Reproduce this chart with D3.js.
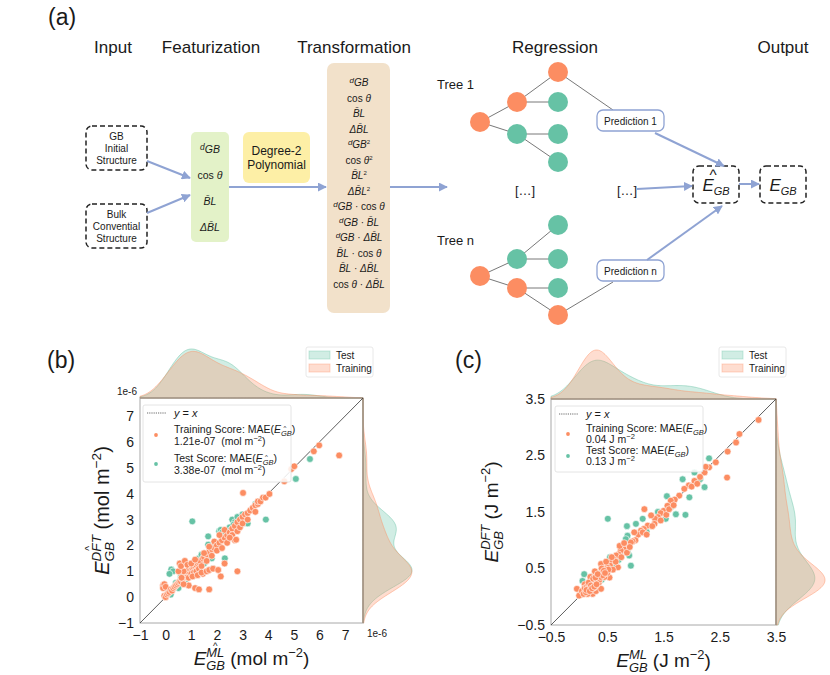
<!DOCTYPE html>
<html>
<head>
<meta charset="utf-8">
<script src="https://cdn.jsdelivr.net/npm/d3@7"></script>
<style>
body { margin: 0; background: #fff; }
text { font-family: "Liberation Sans", Arial, sans-serif; fill: #1a1a1a; }
</style>
</head>
<body>
<svg id="fig" width="830" height="675"></svg>
<script>
// ---- data ----
// panel (b): E_GB in mol m^-2 (units of 1e-6), [ML, DFT]
var trainB = [[-0.1,0.45],[-0.1,0.35],[-0.05,0.5],[-0.05,0.05],
  [0,0.4],[0,0],[0.05,0.1],[0.1,0.15],[0.15,0.2],[0.2,0.3],[0.25,0.25],[0.3,0.35],[0.35,0.4],[0.4,0.45],[0.45,0.5],
  [0.5,0.55],[0.55,0.6],[0.6,0.6],[0.65,0.7],[0.7,0.75],[0.75,0.8],[0.8,0.85],[0.85,0.9],[0.9,0.95],[0.95,1.0],
  [0.8,1.0],[0.9,1.1],[0.7,1.0],[0.5,1.0],[0.55,1.3],[0.6,1.2],[0.75,1.4],[0.85,1.25],[0.9,0.75],[0.9,0.45],[0.7,0.5],[0.62,0.75],
  [1.0,1.05],[1.05,1.1],[1.1,1.15],[1.15,1.2],[1.2,1.25],[1.25,1.3],[1.3,1.35],[1.35,1.4],[1.0,0.9],[1.1,0.95],
  [1.2,1.0],[1.3,1.1],[1.4,1.2],[1.0,1.3],[1.15,1.45],[1.05,0.8],[1.25,0.85],[1.45,0.9],[1.15,0.35],[1.3,0.3],[1.4,0.95],[1.45,1.5],
  [1.5,1.55],[1.6,1.65],[1.7,1.75],[1.8,1.85],[1.9,1.9],[1.6,1.0],[1.7,1.05],[1.85,1.1],[1.7,0.3],[1.6,1.4],[1.8,1.6],[1.5,1.7],[1.7,1.95],[1.9,2.15],
  [2.0,2.0],[2.1,2.1],[2.2,2.2],[2.3,2.3],[2.4,2.4],[2.05,1.05],[2.15,0.8],[2.0,1.8],[2.2,1.9],[2.4,2.1],[2.1,2.4],[2.3,2.6],[2.3,1.3],
  [2.5,2.5],[2.6,2.65],[2.7,2.75],[2.8,2.9],[2.9,3.0],[2.8,1.0],[2.6,2.4],[2.8,2.55],[2.7,2.2],[2.9,2.7],[2.75,2.22],[2.5,2.3],
  [3.0,3.1],[3.1,3.2],[3.2,3.25],[3.3,3.35],[3.4,3.45],[3.0,2.85],[3.2,3.0],[3.02,4.03],
  [3.5,3.55],[3.6,3.6],[3.6,3.7],[3.7,3.7],[3.8,3.85],[3.9,3.85],[3.5,3.3],[4.05,3.99],
  [4.63,4.48],[4.9,4.95],[5.02,5.06],[5.78,5.64],[5.99,5.87],[6.77,5.48]];
var testB = [[0.1,0.2],[0.2,0.1],[0.22,1.07],[0.29,1.0],[0.15,0.9],[0.4,0.55],[0.45,0.5],
  [0.5,0.35],[0.6,0.8],[0.8,0.7],[0.9,1.05],[0.7,0.9],[0.6,0.7],[0.75,0.75],[0.85,0.85],[0.95,1.0],[0.65,0.9],
  [1.04,2.93],[1.0,1.2],[1.2,1.1],[1.3,1.5],[1.1,0.85],[1.2,1.4],[1.4,1.64],[1.05,1.05],[1.15,1.1],[1.3,1.2],
  [1.66,2.35],[1.66,2.03],[1.85,1.1],[1.5,1.3],[1.9,2.0],[1.8,1.5],[1.6,1.6],
  [2.31,1.5],[2.09,2.55],[2.15,2.6],[2.4,2.2],[2.2,2.5],[2.3,2.4],[2.45,2.45],
  [2.6,3.0],[2.9,3.08],[2.5,2.7],[2.7,2.9],[2.8,3.1],[2.55,2.6],[2.65,2.8],
  [3.2,2.85],[3.0,3.2],[3.91,3.0],[3.5,3.6],[5.63,5.34],[5.08,4.57]];

// panel (c): E_GB in J m^-2, [ML, DFT]
var trainC = [[3.19,3.13],[2.85,2.88],[2.79,2.73],[2.64,2.57],[2.63,2.11],[2.43,2.38],[2.31,2.29],[2.23,2.2],[2.15,2.12],[2.05,2.05],
  [1.95,1.97],[1.87,1.91],[1.78,1.79],[1.7,1.72],[1.63,1.7],[1.57,1.61],[1.5,1.52],[1.45,1.48],[1.4,1.41],[1.35,1.38],
  [1.28,1.44],[1.16,1.55],[1.22,1.26],[1.15,1.2],[1.1,1.17],[1.05,1.1],[0.98,1.14],[1.13,1.14],[1.34,1.29],[1.0,1.0],
  [0.95,0.98],[0.92,0.96],[0.86,0.87],[0.8,0.84],[0.74,0.82],[0.7,0.75],[0.66,0.73],[0.62,0.66],[0.57,0.61],[0.55,0.55],
  [0.5,0.52],[0.45,0.49],[0.42,0.45],[0.39,0.58],[0.38,0.4],[0.35,0.38],[0.3,0.4],[0.32,0.3],[0.28,0.28],[0.25,0.25],
  [0.24,0.31],[0.22,0.2],[0.2,0.18],[0.18,0.22],[0.15,0.23],[0.12,0.15],[0.1,0.1],[0.08,0.12],[0.05,0.05],[0.02,0.04],
  [0,0.02],[-0.04,0.14],[0.24,0.05],[0.3,0.1],[0.39,0.14],[0.54,0.34],[0.69,0.52],[0.45,0.35],[0.6,0.48],[0.15,0.05],
  [0.35,0.25],[0.5,0.42],[0.65,0.62],[0.75,0.7],[0.85,0.78],[0.9,0.88],[1.2,1.1],[1.3,1.25],[1.45,1.35],[1.55,1.45],
  [1.6,1.55],[1.68,1.62],[0.28,0.45],[0.2,0.35],[0.1,0.22],[0.4,0.5],[0.48,0.62],[0.58,0.7],[0.72,0.9],[0.8,0.95],
  [0.3,0.2],[0.18,0.12],[0.26,0.16],[0.34,0.32],[0.44,0.4],[0.52,0.48],[2.0,1.95],[2.1,2.0],[2.25,2.3],
  [0.05,0.1],[0.08,0.05],[0.1,0.15],[0.12,0.08],[0.14,0.18],[0.16,0.14],[0.18,0.2],[0.2,0.15],[0.21,0.25],[0.22,0.18],
  [0.23,0.22],[0.24,0.28],[0.25,0.2],[0.26,0.24],[0.27,0.3],[0.28,0.22],[0.29,0.26],[0.3,0.32],[0.31,0.28],[0.32,0.36],
  [0.33,0.3],[0.34,0.38],[0.35,0.34],[0.36,0.3],[0.37,0.4],[0.38,0.35],[0.4,0.42],[0.42,0.38],[0.44,0.46],[0.46,0.42],
  [0.13,0.12],[0.17,0.25],[0.19,0.1],[0.21,0.2],[0.23,0.15],[0.25,0.32],[0.27,0.18],[0.29,0.34],[0.31,0.22],[0.33,0.4]];
var testC = [[2.31,2.45],[1.84,2.08],[2.23,1.94],[2.15,2.08],[1.96,1.76],[1.56,1.78],[1.72,1.46],[1.89,1.45],[1.54,1.38],[0.51,1.38],
  [0.85,1.25],[1.01,1.29],[1.13,1.38],[0.86,1.08],[0.83,1.02],[0.92,0.55],[0.09,0.4],[0.06,0.28],[0.89,0.73],[0.86,0.79],
  [0.2,0.25],[0.35,0.3],[0.45,0.5],[0.6,0.55],[0.7,0.65],[0.3,0.42],[0.15,0.1],[0.55,0.7],[1.2,1.15],[1.4,1.5],
  [0.75,0.85],[0.4,0.3],[0.25,0.15],[1.65,1.6],[2.05,2.2],
  [0.12,0.2],[0.18,0.12],[0.22,0.2],[0.28,0.22],[0.32,0.25],[0.38,0.32],[0.24,0.35],[0.3,0.2],
  [0.1,0.15],[0.15,0.18],[0.2,0.3],[0.25,0.28],[0.35,0.4],[0.14,0.1]];

var ticksB = [-1,0,1,2,3,4,5,6,7];
var ticksC = [-0.5,0.5,1.5,2.5,3.5];
var scoreB = {train: "1.21e-07", test: "3.38e-07"};
var scoreC = {train: "0.04", test: "0.13"};
var seriesNames = ["Test", "Training"];

// diagram content
var stepNames = ["Input", "Featurization", "Transformation", "Regression", "Output"];
var inputBoxes = [["GB", "Initial", "Structure"], ["Bulk", "Convential", "Structure"]];
var baseFeatures = [["d"], ["c"], ["b"], ["db"]];
var polyFeatures = [["d"], ["c"], ["b"], ["db"], ["d2"], ["c2"], ["b2"], ["db2"],
  ["d","c"], ["d","b"], ["d","db"], ["b","c"], ["b","db"], ["c","db"]];

var ORANGE = "#fc8d62", GREEN = "#66c2a5", ARROW = "#8fa3d3";
var NB = "\u00a0";
var svg = d3.select("#fig");

// ---- helpers ----
// pieces laid out left to right; back:true stacks a piece over the previous one (sub/sup)
var rich = function(parent, pieces, cx, cy, anchor, rotate) {
  var g = parent.append("g");
  var x = 0, lastStart = 0;
  pieces.forEach(function(p) {
    var start = p.back ? lastStart : x;
    var t = g.append("text").attr("x", start).attr("y", p.dy || 0)
      .attr("font-size", p.fs).attr("font-style", p.it ? "italic" : null).text(p.t);
    var w = t.node().getComputedTextLength();
    if (p.hat) {
      g.append("text").attr("x", start + w * (p.hatX || 0.5)).attr("y", (p.dy || 0) + (p.hatDy || -p.fs * 0.55))
        .attr("text-anchor", "middle").attr("font-size", p.fs * (p.hatFs || 0.9)).text("^");
    }
    lastStart = start;
    x = Math.max(x, start + w);
  });
  var off = anchor === "middle" ? -x / 2 : anchor === "end" ? -x : 0;
  g.attr("transform", "translate(" + cx + "," + cy + ")" + (rotate ? " rotate(" + rotate + ")" : "") + " translate(" + off + ",0)");
  return g;
};

// tspans with baseline offsets inside one text element
var spans = function(textSel, list) {
  var cur = 0;
  list.forEach(function(s) {
    textSel.append("tspan").attr("dy", (s.off || 0) - cur).attr("font-size", s.fs)
      .attr("font-style", s.it ? "italic" : "normal").text(s.t);
    cur = s.off || 0;
  });
};

var termSpans = function(tokens, fs) {
  var out = [];
  tokens.forEach(function(tok, i) {
    if (i > 0) out.push({t: NB + "\u00b7" + NB, fs: fs});
    var base = tok.replace("2", ""), sq = tok.indexOf("2") >= 0;
    if (base === "d") { out.push({t: "d", fs: fs * 0.8, it: true, off: -3}); out.push({t: "GB", fs: fs, it: true}); }
    if (base === "c") { out.push({t: "cos" + NB, fs: fs}); out.push({t: "\u03b8", fs: fs, it: true}); }
    if (base === "b") out.push({t: "B\u0304L", fs: fs, it: true});
    if (base === "db") out.push({t: "\u0394B\u0304L", fs: fs, it: true});
    if (sq) out.push({t: "2", fs: fs * 0.6, off: -4});
  });
  return out;
};

// ---- panel (a): workflow diagram ----
var drawDiagram = function() {
  svg.append("text").attr("x", 48).attr("y", 25).attr("font-size", 23).text("(a)");
  var hx = [113, 211, 354, 555, 783];
  stepNames.forEach(function(s, i) {
    svg.append("text").attr("x", hx[i]).attr("y", 53).attr("text-anchor", "middle").attr("font-size", 17).text(s);
  });

  var defs = svg.append("defs");
  defs.append("marker").attr("id", "ah").attr("viewBox", "0 0 10 10").attr("refX", 9).attr("refY", 5)
    .attr("markerWidth", 4.5).attr("markerHeight", 4.5).attr("orient", "auto")
    .append("path").attr("d", "M0,0L10,5L0,10Z").attr("fill", ARROW);

  var dashed = function(x, y, w, h) {
    svg.append("rect").attr("x", x).attr("y", y).attr("width", w).attr("height", h).attr("rx", 6)
      .attr("fill", "none").attr("stroke", "#222").attr("stroke-width", 1.5).attr("stroke-dasharray", "5,3");
  };

  inputBoxes.forEach(function(lines, i) {
    var y0 = i === 0 ? 126 : 204;
    dashed(86, y0, 61, 44);
    lines.forEach(function(l, j) {
      svg.append("text").attr("x", 116.5).attr("y", y0 + 14 + j * 12).attr("text-anchor", "middle")
        .attr("font-size", 10).text(l);
    });
  });

  svg.append("rect").attr("x", 191).attr("y", 132).attr("width", 38).attr("height", 110).attr("rx", 5).attr("fill", "#e3f2c8");
  baseFeatures.forEach(function(f, i) {
    spans(svg.append("text").attr("x", 210).attr("y", 153 + i * 26).attr("text-anchor", "middle"), termSpans(f, 10.5));
  });

  svg.append("rect").attr("x", 243).attr("y", 132).attr("width", 67).attr("height", 51).attr("rx", 6).attr("fill", "#fdefa6");
  svg.append("text").attr("x", 276.5).attr("y", 155).attr("text-anchor", "middle").attr("font-size", 12).text("Degree-2");
  svg.append("text").attr("x", 276.5).attr("y", 169).attr("text-anchor", "middle").attr("font-size", 12).text("Polynomial");

  svg.append("rect").attr("x", 327).attr("y", 63).attr("width", 63).attr("height", 250).attr("rx", 7).attr("fill", "#f2e1ca");
  polyFeatures.forEach(function(f, i) {
    spans(svg.append("text").attr("x", 359).attr("y", 86 + i * 15.5).attr("text-anchor", "middle"), termSpans(f, 10));
  });

  // trees
  var trees = [
    {label: "Tree 1", ly: 89,
     nodes: [[480,122,ORANGE],[517,102,ORANGE],[517,134,GREEN],[558,72,ORANGE],[558,102,GREEN],[558,134,GREEN],[558,162,GREEN]],
     edges: [[0,1],[0,2],[1,3],[1,4],[2,5],[2,6]], leaf: 3, box: [597,110], boxText: "Prediction 1"},
    {label: "Tree n", ly: 245,
     nodes: [[480,276,ORANGE],[517,259,GREEN],[517,288,ORANGE],[558,225,GREEN],[558,259,GREEN],[558,288,GREEN],[558,315,ORANGE]],
     edges: [[0,1],[0,2],[1,3],[1,4],[2,5],[2,6]], leaf: 6, box: [597,260], boxText: "Prediction n"}
  ];
  trees.forEach(function(t) {
    svg.append("text").attr("x", 437).attr("y", t.ly).attr("font-size", 13).text(t.label);
    var bx = t.box[0] + 16, by = t.leaf === 3 ? t.box[1] : t.box[1] + 22;
    t.edges.concat([[t.leaf, -1]]).forEach(function(e) {
      var a = t.nodes[e[0]], b = e[1] < 0 ? [bx, by] : t.nodes[e[1]];
      svg.append("line").attr("x1", a[0]).attr("y1", a[1]).attr("x2", b[0]).attr("y2", b[1])
        .attr("stroke", "#555").attr("stroke-width", 0.8);
    });
    t.nodes.forEach(function(n) {
      svg.append("circle").attr("cx", n[0]).attr("cy", n[1]).attr("r", 10).attr("fill", n[2]);
    });
    svg.append("rect").attr("x", t.box[0]).attr("y", t.box[1]).attr("width", 67).attr("height", 21).attr("rx", 6)
      .attr("fill", "#fff").attr("stroke", ARROW).attr("stroke-width", 1.3);
    svg.append("text").attr("x", t.box[0] + 33.5).attr("y", t.box[1] + 14.5).attr("text-anchor", "middle")
      .attr("font-size", 10).text(t.boxText);
  });
  svg.append("text").attr("x", 525).attr("y", 195).attr("text-anchor", "middle").attr("font-size", 13).text("[\u2026]");
  svg.append("text").attr("x", 627).attr("y", 195).attr("text-anchor", "middle").attr("font-size", 13).text("[\u2026]");

  dashed(693, 166, 46, 37);
  dashed(760, 166, 46, 37);
  rich(svg, [{t: "E", fs: 17, it: true, hat: true, hatX: 0.95, hatDy: -11}, {t: "GB", fs: 11, it: true, dy: 4}], 716, 191, "middle");
  rich(svg, [{t: "E", fs: 17, it: true}, {t: "GB", fs: 11, it: true, dy: 4}], 783, 191, "middle");

  var arrows = [[147,161,190,178],[147,213,190,195],[229,187,326,187],[390,187,447,187],
    [655,133,724,166],[637,189,692,186],[647,260,722,206],[739,184,759,184]];
  arrows.forEach(function(a) {
    svg.append("line").attr("x1", a[0]).attr("y1", a[1]).attr("x2", a[2]).attr("y2", a[3])
      .attr("stroke", ARROW).attr("stroke-width", 2).attr("marker-end", "url(#ah)");
  });
};

// ---- panels (b),(c): joint scatter with marginal KDEs ----
var gaussKde = function(values, grid) {
  var n = values.length, sd = d3.deviation(values), bw = sd * Math.pow(n, -0.2);
  return grid.map(function(g) {
    return [g, d3.mean(values, function(v) { var z = (g - v) / bw; return Math.exp(-0.5 * z * z); }) / (bw * Math.sqrt(2 * Math.PI))];
  });
};

var createPanel = function(cfg) {
  var g = svg.append("g");
  var x = d3.scaleLinear().domain(cfg.domain).range([cfg.left, cfg.right]);
  var y = d3.scaleLinear().domain(cfg.domain).range([cfg.bottom, cfg.top]);
  var sets = [cfg.test, cfg.train], cols = [GREEN, ORANGE];

  g.append("text").attr("x", cfg.tag[0]).attr("y", cfg.tag[1]).attr("font-size", 23).text(cfg.tagText);

  // marginal densities
  var grid = d3.range(cfg.domain[0], cfg.domain[1] + 1e-9, (cfg.domain[1] - cfg.domain[0]) / 200);
  var topK = sets.map(function(s) { return gaussKde(s.map(function(d) { return d[0]; }), grid); });
  var rightK = sets.map(function(s) { return gaussKde(s.map(function(d) { return d[1]; }), grid); });
  var mTop = d3.max(topK, function(k) { return d3.max(k, function(d) { return d[1]; }); });
  var mRight = d3.max(rightK, function(k) { return d3.max(k, function(d) { return d[1]; }); });
  var hTop = d3.scaleLinear().domain([0, mTop * 1.04]).range([cfg.top, cfg.top - 51]);
  var hRight = d3.scaleLinear().domain([0, mRight * 1.04]).range([cfg.right, cfg.right + 51]);
  topK.forEach(function(k, i) {
    g.append("path").datum(k).attr("fill", cols[i]).attr("fill-opacity", 0.3)
      .attr("stroke", cols[i]).attr("stroke-opacity", 0.45).attr("stroke-width", 1)
      .attr("d", d3.area().curve(d3.curveBasis).x(function(d) { return x(d[0]); }).y0(cfg.top).y1(function(d) { return hTop(d[1]); }));
  });
  rightK.forEach(function(k, i) {
    g.append("path").datum(k).attr("fill", cols[i]).attr("fill-opacity", 0.3)
      .attr("stroke", cols[i]).attr("stroke-opacity", 0.45).attr("stroke-width", 1)
      .attr("d", d3.area().curve(d3.curveBasis).y(function(d) { return y(d[0]); }).x0(cfg.right).x1(function(d) { return hRight(d[1]); }));
  });

  // frame
  g.append("rect").attr("x", cfg.left).attr("y", cfg.top).attr("width", cfg.right - cfg.left).attr("height", cfg.bottom - cfg.top)
    .attr("fill", "none").attr("stroke", "#a8a8a8").attr("stroke-width", 1);
  g.append("line").attr("x1", cfg.left).attr("x2", cfg.right).attr("y1", cfg.top).attr("y2", cfg.top)
    .attr("stroke", "#9c8a78").attr("stroke-width", 1.2);
  g.append("line").attr("x1", cfg.right).attr("x2", cfg.right).attr("y1", cfg.top).attr("y2", cfg.bottom)
    .attr("stroke", "#9c8a78").attr("stroke-width", 1.2);

  // ticks (no tick marks, seaborn white style)
  var xAxis = d3.axisBottom(x).tickValues(cfg.ticks).tickSize(0).tickPadding(7).tickFormat(cfg.fmt);
  var yAxis = d3.axisLeft(y).tickValues(cfg.ticks).tickSize(0).tickPadding(6).tickFormat(cfg.fmt);
  var ax = g.append("g").attr("transform", "translate(0," + cfg.bottom + ")").call(xAxis);
  var ay = g.append("g").attr("transform", "translate(" + cfg.left + ",0)").call(yAxis);
  [ax, ay].forEach(function(a) {
    a.select(".domain").remove();
    a.selectAll("text").attr("font-size", 14).attr("fill", "#1a1a1a")
      .style("font-family", '"Liberation Sans", Arial, sans-serif');
  });

  // y = x and points
  g.append("line").attr("x1", x(cfg.domain[0])).attr("y1", y(cfg.domain[0])).attr("x2", x(cfg.domain[1])).attr("y2", y(cfg.domain[1]))
    .attr("stroke", "#333").attr("stroke-width", 0.8);
  sets.forEach(function(s, i) {
    g.selectAll(null).data(s).enter().append("circle")
      .attr("cx", function(d) { return x(d[0]); }).attr("cy", function(d) { return y(d[1]); })
      .attr("r", 3.4).attr("fill", cols[i]).attr("stroke", "#fff").attr("stroke-width", 0.6);
  });

  // inner legend
  var L = cfg.legend;
  g.append("rect").attr("x", L.x).attr("y", L.y).attr("width", L.w).attr("height", L.h).attr("rx", 2)
    .attr("fill", "#fff").attr("fill-opacity", 0.85).attr("stroke", "#ddd").attr("stroke-width", 0.8);
  g.append("line").attr("x1", L.x + 4).attr("x2", L.x + 23).attr("y1", L.y + 8).attr("y2", L.y + 8)
    .attr("stroke", "#444").attr("stroke-width", 0.8).attr("stroke-dasharray", "1.2,1");
  rich(g, [{t: "y", fs: 11, it: true}, {t: NB + "=" + NB, fs: 11}, {t: "x", fs: 11, it: true}], L.x + 31, L.y + 12, "start");
  [["train", L.r1, ORANGE, "Training"], ["test", L.r2, GREEN, "Test"]].forEach(function(r) {
    var ry = r[1];
    g.append("circle").attr("cx", L.x + 13).attr("cy", L.y + ry + 2).attr("r", 1.9).attr("fill", r[2]);
    rich(g, [{t: r[3] + " Score: MAE(", fs: 10.5}, {t: "E", fs: 10.5, it: true},
      {t: "GB", fs: 7.5, it: true, dy: 2.5, hat: cfg.hat, hatX: 0.35, hatDy: -5.5, hatFs: 0.8}, {t: ")", fs: 10.5}], L.x + 31, L.y + ry, "start");
    rich(g, cfg.unitLine(cfg.scores[r[0]]), L.x + 31, L.y + ry + L.gap, "start");
  });

  // marginal legend
  var M = cfg.mleg;
  g.append("rect").attr("x", M[0]).attr("y", M[1]).attr("width", 67).attr("height", 30).attr("rx", 2)
    .attr("fill", "#fff").attr("stroke", "#e2e2e2").attr("stroke-width", 0.8);
  seriesNames.forEach(function(nm, i) {
    g.append("rect").attr("x", M[0] + 3).attr("y", M[1] + 4 + i * 13).attr("width", 21).attr("height", 8)
      .attr("fill", cols[i]).attr("fill-opacity", 0.3).attr("stroke", cols[i]).attr("stroke-opacity", 0.35);
    g.append("text").attr("x", M[0] + 30).attr("y", M[1] + 11.5 + i * 13).attr("font-size", 10).text(nm);
  });

  // axis titles
  rich(g, cfg.xlabel, (cfg.left + cfg.right) / 2, cfg.bottom + 42, "middle");
  rich(g, cfg.ylabel, cfg.left - cfg.yoff, (cfg.top + cfg.bottom) / 2, "middle", -90);
  return g;
};

var axisLabel = function(sup, unit, hat, fs) {
  var s = fs * 0.68;
  return [{t: "E", fs: fs, it: true}, {t: "GB", fs: s, it: true, dy: 5},
    {t: sup, fs: s, it: true, dy: -8, back: true, hat: hat, hatDy: -8, hatFs: 0.75}, {t: NB + "(" + unit + NB + "m", fs: fs},
    {t: "\u22122", fs: s, dy: -8}, {t: ")", fs: fs}];
};

drawDiagram();

var pb = createPanel({
  tagText: "(b)", tag: [47, 368], domain: [-1, 7.7], ticks: ticksB,
  fmt: function(d) { return d < 0 ? "\u2212" + Math.abs(d) : d; },
  left: 140, right: 363, top: 398, bottom: 623, yoff: 31,
  test: testB, train: trainB, hat: true, scores: scoreB,
  legend: {x: 143, y: 405, w: 148, h: 77, r1: 28, r2: 57, gap: 12},
  unitLine: function(s) { return [{t: s + NB + NB + "(mol" + NB + "m", fs: 10.5}, {t: "\u22122", fs: 7.5, dy: -4}, {t: ")", fs: 10.5}]; },
  mleg: [306, 347],
  xlabel: axisLabel("ML", "mol", true, 19), ylabel: axisLabel("DFT", "mol", true, 20)
});
pb.append("text").attr("x", 117).attr("y", 395).attr("font-size", 10).text("1e-6");
pb.append("text").attr("x", 367).attr("y", 637).attr("font-size", 10).text("1e-6");

createPanel({
  tagText: "(c)", tag: [455, 368], domain: [-0.5, 3.5], ticks: ticksC,
  fmt: function(d) { return d < 0 ? "\u2212" + Math.abs(d).toFixed(1) : d.toFixed(1); },
  left: 551, right: 776, top: 399, bottom: 625, yoff: 53,
  test: testC, train: trainC, hat: false, scores: scoreC,
  legend: {x: 555, y: 406, w: 148, h: 66, r1: 26, r2: 48, gap: 11},
  unitLine: function(s) { return [{t: s + NB + "J" + NB + "m", fs: 10.5}, {t: "\u22122", fs: 7.5, dy: -4}]; },
  mleg: [719, 347],
  xlabel: axisLabel("ML", "J", false, 19), ylabel: axisLabel("DFT", "J", false, 19)
});
</script>
</body>
</html>
